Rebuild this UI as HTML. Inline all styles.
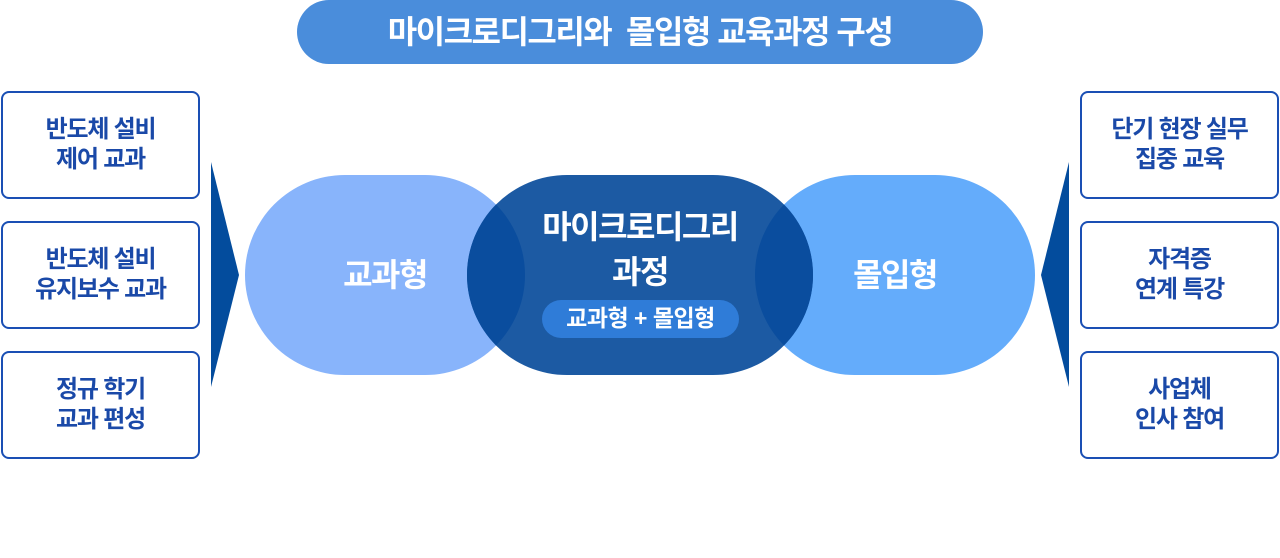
<!DOCTYPE html>
<html><head><meta charset="utf-8"><style>
body{margin:0;width:1280px;height:558px;background:#fff;position:relative;overflow:hidden;font-family:"Liberation Sans","Noto Sans CJK KR",sans-serif;}
.box{position:absolute;width:199px;height:108px;border:2.5px solid #1a4fb4;border-radius:8px;background:#fff;color:#1a49a8;font-weight:bold;font-size:24px;line-height:30px;text-align:center;display:flex;align-items:center;justify-content:center;letter-spacing:-1.2px;box-sizing:border-box}
.t{position:absolute;color:#fff;font-weight:bold;text-align:center;letter-spacing:-1.5px}
</style></head><body>
<svg width="1280" height="558" style="position:absolute;left:0;top:0">
<defs><clipPath id="cl"><rect x="245" y="175" width="280" height="200" rx="100"/></clipPath>
<clipPath id="cr"><rect x="755" y="175" width="280" height="200" rx="100"/></clipPath></defs>
<rect x="297" y="0" width="686" height="64" rx="32" fill="#4a8ddb"/>
<polygon points="211,162 239,275 211,387" fill="#034c9d"/>
<polygon points="1069,162 1041,275 1069,387" fill="#034c9d"/>
<rect x="245" y="175" width="280" height="200" rx="100" fill="#88b4fb"/>
<rect x="755" y="175" width="280" height="200" rx="100" fill="#64acfb"/>
<rect x="467" y="175" width="346" height="200" rx="100" fill="#1c5aa3"/>
<rect x="467" y="175" width="346" height="200" rx="100" fill="#0a4d9e" clip-path="url(#cl)"/>
<rect x="467" y="175" width="346" height="200" rx="100" fill="#0a4d9e" clip-path="url(#cr)"/>
<rect x="542" y="300" width="197" height="38" rx="19" fill="#2f7cd8"/>
</svg>
<div class="t" style="left:297px;top:12px;width:686px;font-size:32px;line-height:40px">마이크로디그리와&nbsp; 몰입형 교육과정 구성</div>
<div class="t" style="left:245px;top:255px;width:280px;font-size:32px;line-height:40px">교과형</div>
<div class="t" style="left:755px;top:255px;width:280px;font-size:32px;line-height:40px">몰입형</div>
<div class="t" style="left:467px;top:205px;width:346px;font-size:32px;line-height:45px">마이크로디그리<br>과정</div>
<div class="t" style="left:542px;top:303px;width:197px;font-size:23px;line-height:30px;letter-spacing:-0.5px">교과형 + 몰입형</div>
<div class="box" style="left:1px;top:91px">반도체 설비<br>제어 교과</div>
<div class="box" style="left:1px;top:221px">반도체 설비<br>유지보수 교과</div>
<div class="box" style="left:1px;top:351px">정규 학기<br>교과 편성</div>
<div class="box" style="left:1080px;top:91px">단기 현장 실무<br>집중 교육</div>
<div class="box" style="left:1080px;top:221px">자격증<br>연계 특강</div>
<div class="box" style="left:1080px;top:351px">사업체<br>인사 참여</div>
</body></html>
